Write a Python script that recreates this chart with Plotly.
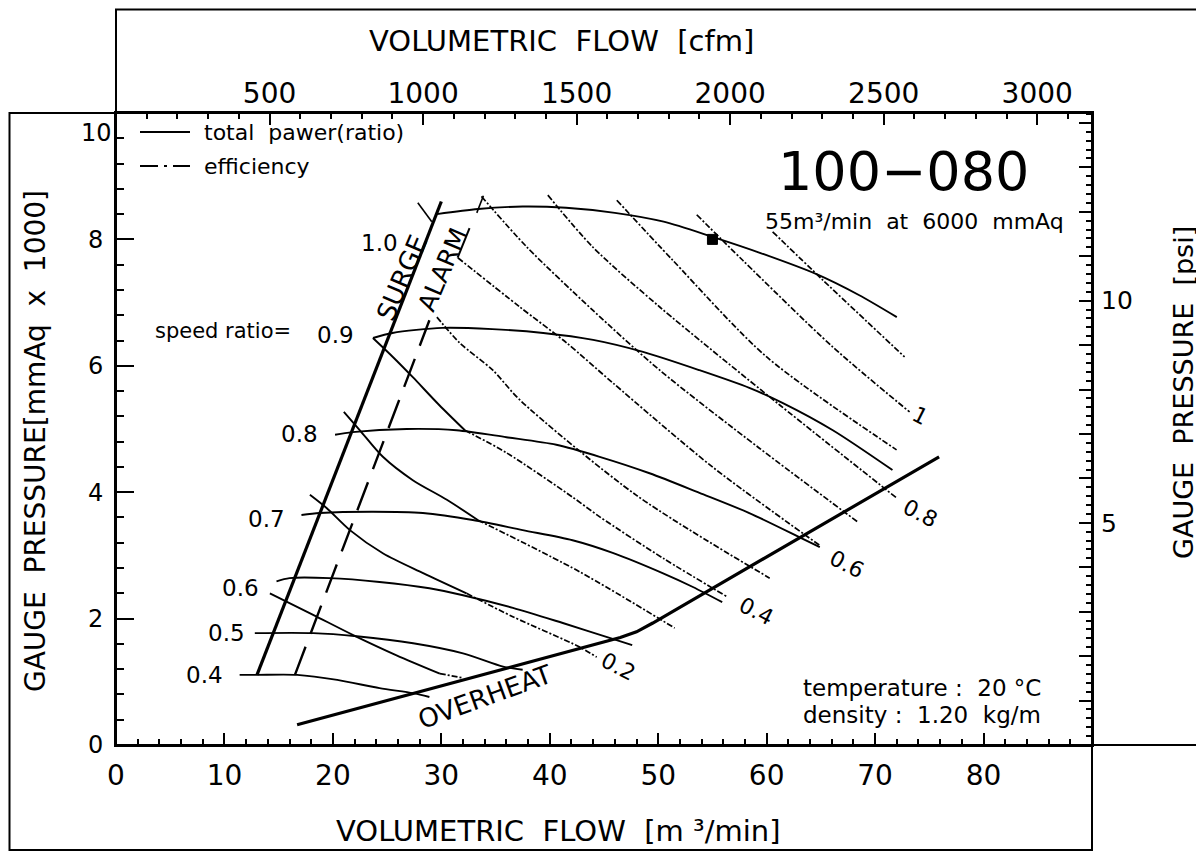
import plotly.graph_objects as go

# ---------------- data ----------------
X_RANGE = [0, 90]            # m3/min
Y_RANGE = [0, 10]            # mmAq x 1000
CFM_PER_M3MIN = 35.3147
PSI_PER_KMMAQ = 1.42233

x_ticks = [0, 10, 20, 30, 40, 50, 60, 70, 80]
y_ticks = [0, 2, 4, 6, 8, 10]
y_tick_text = ["0", "2", "4", "6", "8", ""]   # "10" is drawn a little lower, as in the original
cfm_ticks = [500, 1000, 1500, 2000, 2500, 3000]
psi_ticks = list(range(1, 15))
psi_text = ["5" if v == 5 else ("10" if v == 10 else "") for v in psi_ticks]

# speed-ratio pressure curves
sp10_x = [29.6, 33.4, 37.5, 41.5, 46.0, 50.5, 55.0, 59.5, 64.6, 68.5, 72.0]
sp10_y = [8.40, 8.48, 8.52, 8.50, 8.42, 8.28, 8.04, 7.78, 7.45, 7.12, 6.77]
sp09_x = [23.7, 25.5, 30.1, 34.7, 39.4, 44.0, 48.6, 53.8, 58.4, 61.5, 66.1, 71.6]
sp09_y = [6.44, 6.52, 6.60, 6.58, 6.52, 6.41, 6.22, 5.93, 5.65, 5.41, 4.98, 4.35]
sp08_x = [20.2, 21.8, 26.8, 31.4, 36.0, 40.6, 44.6, 49.2, 53.8, 58.4, 63.0, 64.9]
sp08_y = [4.91, 4.95, 5.00, 4.98, 4.87, 4.75, 4.56, 4.30, 3.99, 3.67, 3.29, 3.13]
sp07_x = [17.1, 18.8, 23.7, 28.3, 32.9, 37.5, 42.1, 45.8, 50.4, 53.2, 55.9]
sp07_y = [3.64, 3.67, 3.69, 3.67, 3.56, 3.40, 3.24, 3.04, 2.72, 2.50, 2.26]
sp06_x = [14.8, 16.0, 19.7, 24.3, 28.9, 32.0, 36.6, 41.2, 45.8, 47.6]
sp06_y = [2.59, 2.64, 2.64, 2.58, 2.48, 2.37, 2.17, 1.93, 1.68, 1.58]
sp05_x = [12.8, 18.2, 22.2, 27.4, 32.0, 35.7, 37.5]
sp05_y = [1.77, 1.77, 1.72, 1.61, 1.45, 1.24, 1.19]
sp04_x = [11.4, 13.0, 16.7, 20.4, 24.3, 27.4, 28.9]
sp04_y = [1.11, 1.11, 1.11, 1.03, 0.90, 0.82, 0.76]

speed_label_text = ["1.0", "0.8", "0.7", "0.6", "0.5", "0.4"]
speed_label_x = [24.3, 16.96, 13.92, 11.5, 10.15, 8.2]
speed_label_y = [7.94, 4.92, 3.57, 2.48, 1.77, 1.10]

# steep solid power curves starting at the surge end of each speed curve
p09_x = [23.69, 25.53, 27.37, 29.8, 32.17]
p09_y = [6.44, 6.14, 5.82, 5.38, 4.98]
p08_x = [21.01, 22.49, 24.61, 27.37, 30.51, 33.36]
p08_y = [5.27, 4.98, 4.56, 4.19, 3.88, 3.56]
p07_x = [17.88, 19.42, 21.57, 24.64, 28.32, 32.32]
p07_y = [3.96, 3.75, 3.40, 3.03, 2.72, 2.40]
p06_x = [14.19, 18.18, 21.87, 25.87, 29.86]
p06_y = [2.40, 2.06, 1.74, 1.42, 1.13]
p10_tick_x = [27.83, 29.12]
p10_tick_y = [8.58, 8.28]

# dash-dot lines
e11_x = [60.55, 65.16, 72.72]
e11_y = [8.12, 7.36, 6.14]
e10_x = [53.55, 57.79, 66.08, 73.18]
e10_y = [8.39, 7.67, 6.30, 5.27]
e09_x = [46.18, 51.34, 60.0, 71.98]
e09_y = [8.62, 7.67, 6.14, 4.67]
e08_x = [39.82, 43.96, 50.14, 61.2, 71.98]
e08_y = [8.70, 7.88, 6.93, 5.38, 3.91]
e07_x = [33.7, 37.88, 43.96, 50.14, 59.3, 68.39]
e07_y = [8.68, 7.88, 6.88, 5.93, 4.70, 3.53]
e06_x = [31.52, 37.24, 41.57, 45.81, 55.0, 64.88]
e06_y = [7.71, 6.93, 6.36, 5.73, 4.40, 3.16]
e05_x = [29.59, 31.71, 34.75, 37.24, 48.0, 60.28]
e05_y = [6.77, 6.36, 5.93, 5.46, 3.95, 2.64]
e04_x = [32.17, 36.04, 42.12, 44.61, 50.5, 56.41]
e04_y = [4.98, 4.62, 3.92, 3.61, 2.95, 2.34]
e03_x = [33.36, 42.76, 51.52]
e03_y = [3.56, 2.74, 1.85]
e02_x = [32.32, 36.59, 42.76, 44.33]
e02_y = [2.40, 2.03, 1.55, 1.39]
e01_x = [29.86, 32.01]
e01_y = [1.13, 1.06]
e07_tick_x = [33.27, 33.88]
e07_tick_y = [8.42, 8.69]

power_label_text = ["0.2", "0.4", "0.6", "0.8", "1"]
power_label_x = [46.3, 59.1, 67.4, 74.2, 74.1]
power_label_y = [1.25, 2.12, 2.85, 3.67, 5.21]

# limit lines
surge_x = [13.0, 30.0]
surge_y = [1.11, 8.60]
alarm_x = [16.5, 28.9]
alarm_y = [1.11, 6.72]
alarm_top_x = [31.5, 32.6]
alarm_top_y = [7.71, 8.18]
overheat_x = [16.7, 44.5, 46.5, 48.0, 49.5, 75.9]
overheat_y = [0.32, 1.607, 1.70, 1.79, 1.93, 4.56]

rated_x = [55.0]
rated_y = [8.0]

# ---------------- figure ----------------
FONT = "DejaVu Sans"
PAGE_OFFSET = 8          # default body margin of the html page
fig = go.Figure()


def add_line(x, y, width=1.8, dash="solid", shape="spline", smoothing=0.8):
    fig.add_trace(go.Scatter(
        x=x, y=y, mode="lines",
        line=dict(color="black", width=width, dash=dash, shape=shape,
                  smoothing=smoothing if shape == "spline" else None),
        hoverinfo="skip", showlegend=False))


DASHDOT = "6px,2px,2px,2px"

for xs, ys in [(sp10_x, sp10_y), (sp09_x, sp09_y), (sp08_x, sp08_y), (sp07_x, sp07_y),
               (sp06_x, sp06_y), (sp05_x, sp05_y), (sp04_x, sp04_y)]:
    add_line(xs, ys, width=1.9)

for xs, ys in [(p09_x, p09_y), (p08_x, p08_y), (p07_x, p07_y), (p06_x, p06_y)]:
    add_line(xs, ys, width=1.9)
add_line(p10_tick_x, p10_tick_y, width=1.6, shape="linear")
add_line(e07_tick_x, e07_tick_y, width=1.6, shape="linear")

for xs, ys in [(e11_x, e11_y), (e10_x, e10_y), (e09_x, e09_y), (e08_x, e08_y),
               (e07_x, e07_y), (e06_x, e06_y), (e05_x, e05_y), (e04_x, e04_y),
               (e03_x, e03_y), (e02_x, e02_y), (e01_x, e01_y)]:
    add_line(xs, ys, width=1.7, dash=DASHDOT)

add_line(surge_x, surge_y, width=3.2, shape="linear")
add_line(alarm_x, alarm_y, width=2.4, dash="30px,14px", shape="linear")
add_line(alarm_top_x, alarm_top_y, width=2.0, shape="linear")
add_line(overheat_x, overheat_y, width=3.2, shape="linear")

fig.add_trace(go.Scatter(x=rated_x, y=rated_y, mode="markers",
                         marker=dict(symbol="square", size=10, color="black",
                                     line=dict(color="black", width=1)),
                         hoverinfo="skip", showlegend=False))

# anchor trace for the secondary (cfm / psi) axes
fig.add_trace(go.Scatter(x=[X_RANGE[1] * CFM_PER_M3MIN], y=[Y_RANGE[1] * PSI_PER_KMMAQ],
                         xaxis="x2", yaxis="y2", mode="markers",
                         marker=dict(opacity=0), hoverinfo="skip", showlegend=False))

ann = []


def txt(text, x, y, size=23, angle=0, xanchor="center", xref="x", yref="y", yanchor="middle"):
    ann.append(dict(text=text, x=x, y=y, xref=xref, yref=yref, showarrow=False,
                    textangle=angle, xanchor=xanchor, yanchor=yanchor,
                    font=dict(family=FONT, size=size, color="black")))


for t, x, y in zip(speed_label_text, speed_label_x, speed_label_y):
    txt(t, x, y, size=23)
txt("speed ratio=", 9.91, 6.55, size=21)
txt("0.9", 20.2, 6.49, size=23)

for t, x, y in zip(power_label_text, power_label_x, power_label_y):
    txt(t, x, y, size=22, angle=27)

txt("SURGE", 26.36, 7.39, size=26, angle=-67)
txt("ALARM", 30.14, 7.52, size=25, angle=-67)
txt("OVERHEAT", 34.0, 0.76, size=26, angle=-20)

txt("100\u2212080", 72.6, 9.07, size=54)
txt("55m\u00b3/min  at  6000  mmAq", 73.64, 8.28, size=22)
txt("temperature :  20 \u00b0C", 63.2, 0.90, size=23, xanchor="left")
txt("density :  1.20  kg/m", 63.2, 0.475, size=23, xanchor="left")

# plot area in page pixels: x 116..1092, y 113..745
PW, PH = 976.0, 632.0


def px(xp):
    return (xp - 116) / PW


def py(yp):
    return (745 - yp) / PH


txt("total  pawer(ratio)", px(202), py(132), size=22, xanchor="left", xref="paper", yref="paper")
txt("efficiency", px(202), py(166), size=22, xanchor="left", xref="paper", yref="paper")

# top-left "10" tick label, sits just below the frame line
txt("10", px(96), py(133), size=24, xref="paper", yref="paper")

# axis titles
txt("VOLUMETRIC  FLOW  [m \u00b3/min]", px(558), py(831), size=29, xref="paper", yref="paper")
txt("VOLUMETRIC  FLOW  [cfm]", px(561), py(41), size=29, xref="paper", yref="paper")
txt("GAUGE  PRESSURE[mmAq  x  1000]", px(35), py(441), size=28, angle=-90, xref="paper", yref="paper")
txt("GAUGE  PRESSURE  [psi]", px(1183), py(393), size=27, angle=-90, xref="paper", yref="paper")

shapes = [
    # two overlapping frames
    dict(type="rect", xref="paper", yref="paper", x0=px(116), x1=px(1201), y0=py(745), y1=py(9.5),
         line=dict(color="black", width=2)),
    dict(type="rect", xref="paper", yref="paper", x0=px(9.5), x1=px(1092), y0=py(850), y1=py(113),
         line=dict(color="black", width=2)),
    # legend samples
    dict(type="line", xref="paper", yref="paper", x0=px(140), x1=px(190), y0=py(132), y1=py(132),
         line=dict(color="black", width=1.8)),
    dict(type="line", xref="paper", yref="paper", x0=px(140), x1=px(190), y0=py(166), y1=py(166),
         line=dict(color="black", width=1.8, dash="18px,6px,3px,6px")),
]

axis_common = dict(showgrid=False, zeroline=False, showline=True, linecolor="black", linewidth=2,
                   ticks="inside", tickcolor="black", tickwidth=2,
                   tickfont=dict(family=FONT, size=28, color="black"))

FIG_W = 1204 - PAGE_OFFSET
FIG_H = 852 - PAGE_OFFSET

fig.update_layout(
    width=FIG_W, height=FIG_H,
    margin=dict(l=116 - PAGE_OFFSET, r=FIG_W - (1092 - PAGE_OFFSET),
                t=113 - PAGE_OFFSET, b=FIG_H - (745 - PAGE_OFFSET), pad=0),
    paper_bgcolor="white", plot_bgcolor="white",
    font=dict(family=FONT, color="black"),
    showlegend=False,
    xaxis=dict(axis_common, range=X_RANGE, tickmode="array", tickvals=x_ticks, ticklen=12,
               ticklabelstandoff=4,
               minor=dict(tickmode="linear", tick0=0, dtick=2, ticklen=6, tickwidth=1.5,
                          tickcolor="black", ticks="inside")),
    yaxis=dict(axis_common, range=Y_RANGE, tickmode="array", tickvals=y_ticks, ticktext=y_tick_text,
               ticklen=18, tickfont=dict(family=FONT, size=24, color="black"), ticklabelstandoff=6,
               minor=dict(tickmode="linear", tick0=0, dtick=0.4, ticklen=8, tickwidth=1.5,
                          tickcolor="black", ticks="inside")),
    xaxis2=dict(axis_common, overlaying="x", side="top", anchor="y",
                range=[X_RANGE[0] * CFM_PER_M3MIN, X_RANGE[1] * CFM_PER_M3MIN],
                tickmode="array", tickvals=cfm_ticks, ticklen=12, ticklabelstandoff=-3,
                minor=dict(tickmode="linear", tick0=0, dtick=100, ticklen=6, tickwidth=1.5,
                           tickcolor="black", ticks="inside")),
    yaxis2=dict(axis_common, overlaying="y", side="right", anchor="x",
                range=[Y_RANGE[0] * PSI_PER_KMMAQ, Y_RANGE[1] * PSI_PER_KMMAQ],
                tickmode="array", tickvals=psi_ticks, ticktext=psi_text, ticklen=13,
                tickfont=dict(family=FONT, size=25, color="black"), ticklabelstandoff=2,
                minor=dict(tickmode="linear", tick0=0, dtick=0.2, ticklen=6, tickwidth=1.5,
                           tickcolor="black", ticks="inside")),
    annotations=ann,
    shapes=shapes,
)

fig.write_html("out.html")
